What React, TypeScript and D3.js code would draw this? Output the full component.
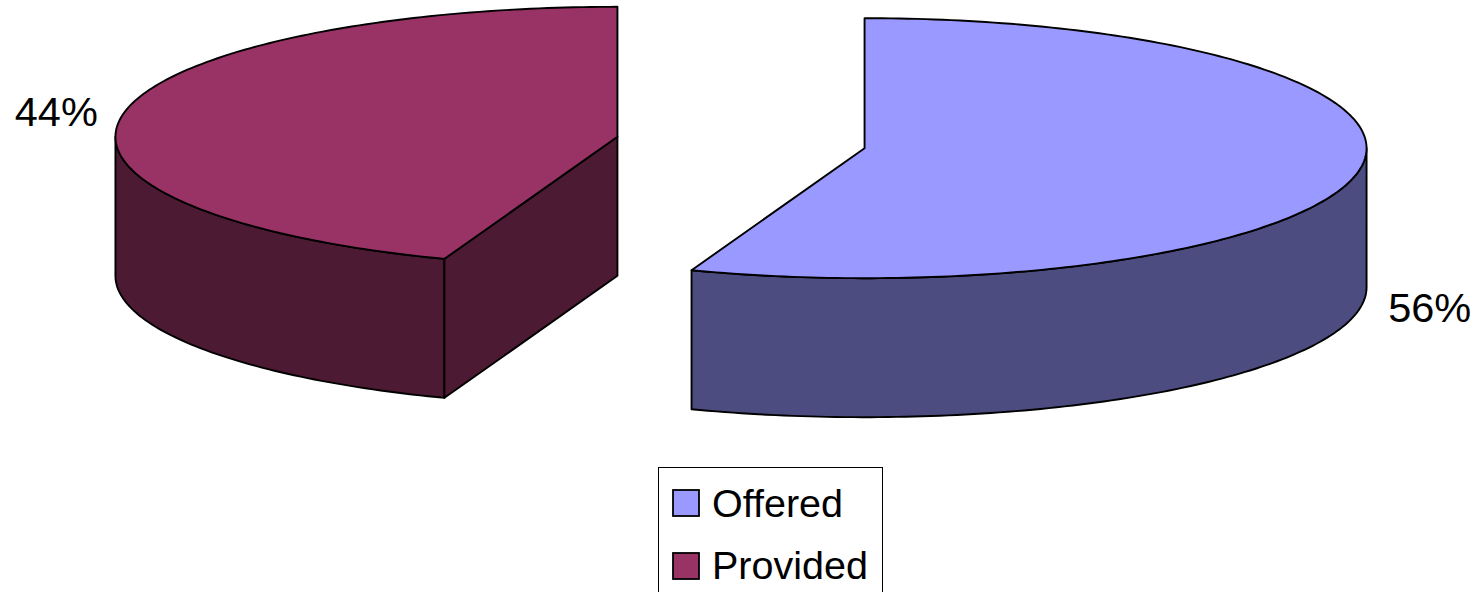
import React from "react";
import * as d3 from "d3";

const categories = ["Offered", "Provided"];
const values = [55.6, 44.4];
const labels = ["56%", "44%"];
const topColors = ["#9999FF", "#993366"];
const sideColors = ["#4C4C80", "#4D1A33"];

const W = 1479;
const H = 592;
const CX = 741;
const CY = 142.5;
const RX = 502;
const RY = 130;
const DEPTH = 139;
const EXPLODE = 0.25;

type Pt = [number, number];

function rim(cx: number, cy: number, a: number, dy = 0): Pt {
  return [cx + RX * Math.sin(a), cy - RY * Math.cos(a) + dy];
}

function arcPts(cx: number, cy: number, a0: number, a1: number, dy = 0): Pt[] {
  const n = Math.max(2, Math.ceil((Math.abs(a1 - a0) * 180) / Math.PI));
  const pts: Pt[] = [];
  for (let i = 0; i <= n; i++) {
    pts.push(rim(cx, cy, a0 + ((a1 - a0) * i) / n, dy));
  }
  return pts;
}

const line = d3.line<Pt>().x((d) => d[0]).y((d) => d[1]);

export default function App() {
  const data = categories.map((c, i) => ({ name: c, value: values[i], i }));
  const arcs = d3
    .pie<any>()
    .sort(null)
    .value((d) => d.value)
    .startAngle(0)
    .endAngle(2 * Math.PI)(data);

  const slices = arcs.map((a) => {
    const mid = (a.startAngle + a.endAngle) / 2;
    const cx = CX + EXPLODE * RX * Math.sin(mid);
    const cy = CY - EXPLODE * RY * Math.cos(mid);
    return { a, mid, cx, cy, i: a.data.i };
  });

  const order = [...slices].sort((p, q) => p.cy - q.cy);
  const SW = 1.9;

  return (
    <svg
      width={W}
      height={H}
      style={{ position: "absolute", left: 0, top: 0, display: "block", background: "#fff" }}
      fontFamily="'Liberation Sans', Arial, sans-serif"
    >
      {order.map((s) => {
        const { a, cx, cy, i } = s;
        const a0 = a.startAngle;
        const a1 = a.endAngle;
        const parts: any[] = [];
        const w0 = Math.max(a0, Math.PI / 2);
        const w1 = Math.min(a1, (3 * Math.PI) / 2);
        if (w1 > w0) {
          const top = arcPts(cx, cy, w0, w1);
          const bot = arcPts(cx, cy, w1, w0, DEPTH);
          parts.push(
            <path
              key="wall"
              d={line([...top, ...bot])! + "Z"}
              fill={sideColors[i]}
              stroke="#000"
              strokeWidth={SW}
              strokeLinejoin="round"
            />
          );
        }
        const faces: number[] = [];
        if (Math.sin(a0) < -1e-6) faces.push(a0);
        if (Math.sin(a1) > 1e-6) faces.push(a1);
        faces.forEach((ang, k) => {
          const r = rim(cx, cy, ang);
          const pts: Pt[] = [
            [cx, cy],
            r,
            [r[0], r[1] + DEPTH],
            [cx, cy + DEPTH],
          ];
          parts.push(
            <path
              key={"face" + k}
              d={line(pts)! + "Z"}
              fill={sideColors[i]}
              stroke="#000"
              strokeWidth={SW}
              strokeLinejoin="round"
            />
          );
        });
        const topPts: Pt[] = [[cx, cy], ...arcPts(cx, cy, a0, a1)];
        parts.push(
          <path
            key="top"
            d={line(topPts)! + "Z"}
            fill={topColors[i]}
            stroke="#000"
            strokeWidth={SW}
            strokeLinejoin="round"
          />
        );
        return <g key={i}>{parts}</g>;
      })}
      {slices.map((s) => {
        const sm = Math.sin(s.mid);
        const cm = Math.cos(s.mid);
        const lx = s.cx + sm * (RX + 70) + 2;
        const ly = s.cy - cm * RY + (cm < 0 ? DEPTH : 0) - 3;
        return (
          <text
            key={"lbl" + s.i}
            x={lx}
            y={ly + 15}
            textAnchor="middle"
            fontSize={41.5}
            fill="#000"
          >
            {labels[s.i]}
          </text>
        );
      })}
      <g>
        <rect x={658.5} y={467.5} width={224} height={140} fill="#fff" stroke="#000" strokeWidth={1} />
        {categories.map((c, i) => (
          <g key={c}>
            <rect
              x={673}
              y={490 + i * 63}
              width={26}
              height={26}
              fill={topColors[i]}
              stroke="#000"
              strokeWidth={1.8}
            />
            <text x={712} y={517 + i * 62} fontSize={39.5} fill="#000">
              {c}
            </text>
          </g>
        ))}
      </g>
    </svg>
  );
}
